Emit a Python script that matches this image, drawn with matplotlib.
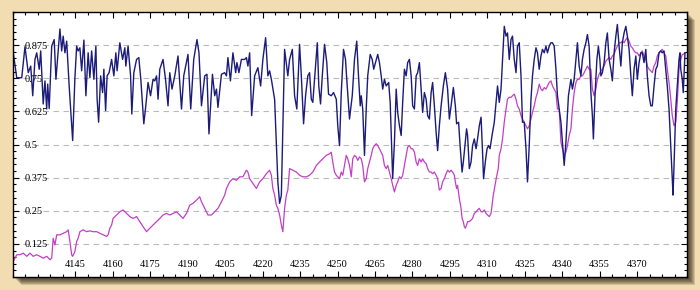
import matplotlib
matplotlib.use("Agg")
import matplotlib.pyplot as plt
from matplotlib.patches import Rectangle
from matplotlib.ticker import FixedLocator, MultipleLocator

# wavelength / normalised flux
blue_wl = [4120.1, 4121.5, 4123.5, 4124.8, 4126.1, 4127.1, 4127.9, 4128.8, 4129.5, 4130.5,
           4131.1, 4132.1, 4132.8, 4133.5, 4133.9, 4134.5, 4135.5, 4136.5, 4137.2, 4138.8,
           4139.5, 4140.1, 4140.8, 4141.5, 4142.5, 4143.9, 4144.8, 4145.5, 4146.1, 4146.8,
           4147.5, 4148.4, 4149.2, 4150.1, 4150.8, 4151.5, 4152.4, 4153.2, 4153.7, 4154.3,
           4155.1, 4155.9, 4156.4, 4157.1, 4157.7, 4158.5, 4159.5, 4160.4, 4161.2, 4161.7,
           4162.8, 4163.9, 4164.8, 4165.2, 4166.1, 4167.1, 4167.6, 4168.4, 4169.5, 4170.4,
           4171.2, 4172.4, 4173.2, 4174.1, 4175.1, 4176.1, 4176.8, 4177.5, 4178.1, 4178.8,
           4180.1, 4181.1, 4182.1, 4182.8, 4183.7, 4184.8, 4186.1, 4187.5, 4188.4, 4190.1,
           4191.2, 4192.4, 4193.7, 4194.5, 4195.5, 4196.8, 4197.7, 4198.5, 4199.9, 4200.8,
           4201.5, 4202.1, 4203.5, 4204.8, 4205.5, 4206.1, 4207.1, 4208.1, 4209.2, 4209.7,
           4210.5, 4211.5, 4212.8, 4213.5, 4214.1, 4214.8, 4215.6, 4216.8, 4218.1, 4219.2,
           4220.1, 4221.2, 4222.1, 4222.8, 4223.5, 4224.8, 4226.1, 4226.8, 4227.5, 4228.8,
           4230.1, 4230.8, 4231.9, 4232.8, 4233.7, 4234.8, 4235.5, 4236.4, 4237.2, 4238.1,
           4238.8, 4239.5, 4240.1, 4241.2, 4241.9, 4242.5, 4243.2, 4243.9, 4244.8, 4245.7,
           4246.4, 4247.5, 4248.4, 4249.5, 4250.1, 4250.8, 4251.5, 4252.4, 4253.2, 4253.7,
           4254.8, 4255.9, 4256.8, 4257.7, 4258.4, 4259.1, 4259.5, 4260.1, 4260.8, 4261.5,
           4262.1, 4263.1, 4263.9, 4264.5, 4265.2, 4266.1, 4266.8, 4267.5, 4268.1, 4268.8,
           4269.5, 4270.5, 4271.1, 4271.7, 4272.1, 4272.8, 4273.5, 4274.1, 4274.8, 4275.5,
           4276.1, 4276.8, 4277.5, 4278.1, 4278.8, 4279.5, 4280.1, 4280.8, 4281.5, 4282.1,
           4282.8, 4283.5, 4284.1, 4284.8, 4285.5, 4286.1, 4286.8, 4287.5, 4288.1, 4288.8,
           4289.5, 4290.1, 4290.8, 4291.5, 4292.4, 4293.2, 4294.1, 4294.8, 4295.5, 4296.4,
           4297.2, 4297.7, 4298.5, 4299.1, 4299.9, 4300.4, 4301.2, 4301.7, 4302.1, 4302.8,
           4303.5, 4304.1, 4304.8, 4305.5, 4306.1, 4306.8, 4307.5, 4308.1, 4308.5, 4309.2,
           4309.9, 4310.5, 4311.1, 4311.9, 4312.8, 4313.5, 4314.1, 4314.8, 4315.5, 4316.1,
           4316.8, 4317.5, 4318.1, 4318.8, 4319.5, 4320.1, 4320.8, 4321.5, 4322.1, 4322.8,
           4323.5, 4324.1, 4324.8, 4325.5, 4326.1, 4326.8, 4327.5, 4328.1, 4328.8, 4329.5,
           4330.1, 4330.8, 4331.5, 4332.1, 4332.8, 4333.5, 4334.1, 4334.8, 4335.5, 4336.1,
           4336.8, 4337.5, 4338.1, 4338.8, 4339.5, 4340.1, 4340.8, 4341.5, 4342.5, 4343.5,
           4344.1, 4344.8, 4345.5, 4346.1, 4346.8, 4347.5, 4348.1, 4348.8, 4349.5, 4350.1,
           4350.8, 4351.5, 4352.1, 4352.5, 4353.2, 4353.9, 4354.5, 4355.1, 4355.5, 4356.1,
           4356.8, 4357.5, 4358.1, 4358.8, 4359.5, 4360.1, 4360.8, 4361.5, 4362.1, 4362.8,
           4363.5, 4364.1, 4364.8, 4365.5, 4366.1, 4366.8, 4367.5, 4368.1, 4368.8, 4369.5,
           4370.1, 4370.8, 4371.5, 4372.1, 4372.8, 4373.5, 4374.1, 4374.8, 4375.5, 4376.1,
           4376.8, 4377.5, 4378.1, 4378.8, 4379.5, 4380.1, 4380.8, 4381.5, 4382.1, 4382.8,
           4383.5, 4384.1, 4384.4, 4384.8, 4385.5, 4386.1, 4386.8, 4387.2, 4387.5, 4388.1,
           4388.5, 4388.9, 4389.2]
blue_flux = [0.846, 0.752, 0.752, 0.869, 0.771, 0.796, 0.684, 0.821, 0.846, 0.784,
             0.853, 0.653, 0.740, 0.634, 0.728, 0.636, 0.871, 0.896, 0.746, 0.936,
             0.853, 0.909, 0.846, 0.890, 0.721, 0.515, 0.752, 0.871, 0.853, 0.865,
             0.778, 0.894, 0.684, 0.846, 0.752, 0.853, 0.746, 0.871, 0.671, 0.584,
             0.759, 0.696, 0.784, 0.628, 0.759, 0.771, 0.821, 0.759, 0.846, 0.778,
             0.884, 0.821, 0.865, 0.796, 0.871, 0.759, 0.615, 0.771, 0.821, 0.828,
             0.746, 0.578, 0.646, 0.734, 0.684, 0.746, 0.740, 0.759, 0.671, 0.784,
             0.821, 0.746, 0.646, 0.771, 0.709, 0.759, 0.834, 0.634, 0.759, 0.840,
             0.634, 0.821, 0.896, 0.846, 0.646, 0.759, 0.765, 0.540, 0.765, 0.684,
             0.709, 0.640, 0.765, 0.771, 0.759, 0.828, 0.740, 0.846, 0.771, 0.809,
             0.771, 0.821, 0.821, 0.828, 0.796, 0.846, 0.609, 0.759, 0.790, 0.721,
             0.821, 0.903, 0.759, 0.778, 0.746, 0.671, 0.359, 0.278, 0.309, 0.859,
             0.759, 0.821, 0.859, 0.684, 0.634, 0.878, 0.759, 0.578, 0.684, 0.759,
             0.771, 0.671, 0.659, 0.796, 0.884, 0.721, 0.653, 0.759, 0.878, 0.809,
             0.690, 0.684, 0.696, 0.671, 0.571, 0.496, 0.696, 0.859, 0.821, 0.746,
             0.596, 0.684, 0.821, 0.890, 0.759, 0.646, 0.684, 0.634, 0.459, 0.634,
             0.759, 0.840, 0.821, 0.784, 0.809, 0.840, 0.809, 0.759, 0.709, 0.746,
             0.721, 0.734, 0.659, 0.484, 0.371, 0.509, 0.709, 0.621, 0.571, 0.534,
             0.659, 0.784, 0.759, 0.809, 0.821, 0.759, 0.646, 0.634, 0.759, 0.771,
             0.809, 0.709, 0.621, 0.696, 0.671, 0.609, 0.596, 0.696, 0.734, 0.646,
             0.546, 0.477, 0.571, 0.646, 0.721, 0.771, 0.709, 0.596, 0.646, 0.715,
             0.646, 0.578, 0.584, 0.496, 0.396, 0.434, 0.509, 0.559, 0.534, 0.409,
             0.434, 0.496, 0.521, 0.484, 0.521, 0.571, 0.603, 0.471, 0.371, 0.434,
             0.484, 0.496, 0.484, 0.534, 0.584, 0.659, 0.721, 0.659, 0.709, 0.821,
             0.946, 0.909, 0.921, 0.821, 0.896, 0.909, 0.821, 0.771, 0.871, 0.884,
             0.759, 0.584, 0.584, 0.484, 0.359, 0.496, 0.671, 0.759, 0.821, 0.865,
             0.846, 0.784, 0.834, 0.859, 0.846, 0.871, 0.846, 0.871, 0.884, 0.884,
             0.871, 0.784, 0.684, 0.634, 0.584, 0.509, 0.421, 0.509, 0.684, 0.746,
             0.709, 0.746, 0.821, 0.884, 0.796, 0.759, 0.821, 0.859, 0.884, 0.915,
             0.871, 0.696, 0.609, 0.521, 0.696, 0.821, 0.871, 0.821, 0.759, 0.771,
             0.809, 0.884, 0.921, 0.821, 0.784, 0.740, 0.846, 0.909, 0.953, 0.871,
             0.796, 0.884, 0.921, 0.946, 0.909, 0.859, 0.759, 0.684, 0.784, 0.834,
             0.746, 0.809, 0.846, 0.846, 0.809, 0.859, 0.759, 0.684, 0.646, 0.646,
             0.721, 0.784, 0.796, 0.846, 0.853, 0.846, 0.853, 0.784, 0.721, 0.634,
             0.496, 0.371, 0.309, 0.421, 0.634, 0.721, 0.821, 0.846, 0.784, 0.746,
             0.696, 0.784, 0.846]

pink_wl = [4120.1, 4121.5, 4122.8, 4124.1, 4125.5, 4126.8, 4128.1, 4129.5, 4130.8, 4132.1,
           4133.5, 4134.8, 4135.5, 4136.1, 4136.8, 4137.5, 4138.8, 4140.1, 4141.5, 4142.1,
           4142.8, 4143.5, 4143.9, 4144.8, 4145.5, 4146.1, 4146.8, 4148.1, 4149.5, 4150.8,
           4152.1, 4153.5, 4154.8, 4156.1, 4157.5, 4158.1, 4158.8, 4159.5, 4160.1, 4161.5,
           4162.8, 4164.1, 4165.5, 4166.8, 4168.1, 4169.5, 4170.8, 4172.1, 4173.5, 4174.8,
           4176.1, 4177.5, 4178.8, 4180.1, 4181.5, 4182.8, 4184.1, 4185.5, 4186.8, 4188.1,
           4189.5, 4190.8, 4192.1, 4193.5, 4194.8, 4195.5, 4196.8, 4198.1, 4199.5, 4200.8,
           4202.1, 4203.5, 4204.8, 4205.5, 4206.8, 4208.1, 4209.5, 4210.8, 4212.1, 4213.5,
           4214.1, 4214.8, 4216.1, 4217.5, 4218.8, 4220.1, 4221.5, 4222.8, 4223.5, 4224.1,
           4224.8, 4225.5, 4226.1, 4226.8, 4227.5, 4228.1, 4228.8, 4229.5, 4230.1, 4230.8,
           4232.1, 4233.5, 4234.8, 4236.1, 4237.5, 4238.8, 4240.1, 4241.5, 4242.8, 4244.1,
           4245.5, 4246.8, 4247.5, 4248.1, 4248.8, 4249.5, 4250.8, 4251.5, 4252.1, 4252.8,
           4253.5, 4254.1, 4254.8, 4255.5, 4256.1, 4256.8, 4257.5, 4258.1, 4258.8, 4259.5,
           4260.1, 4260.8, 4261.5, 4262.1, 4262.8, 4263.5, 4264.1, 4264.8, 4265.5, 4266.1,
           4266.8, 4267.5, 4268.1, 4268.8, 4269.5, 4270.1, 4270.8, 4271.5, 4272.1, 4272.8,
           4273.5, 4274.1, 4274.8, 4275.5, 4276.1, 4276.8, 4277.5, 4278.1, 4278.8, 4279.5,
           4280.1, 4280.8, 4281.5, 4282.1, 4282.8, 4283.5, 4284.1, 4284.8, 4285.5, 4286.1,
           4286.8, 4287.5, 4288.1, 4288.8, 4289.5, 4290.1, 4290.8, 4291.5, 4292.1, 4292.8,
           4293.5, 4294.1, 4294.8, 4295.5, 4296.1, 4296.8, 4297.2, 4297.7, 4298.1, 4298.8,
           4299.5, 4299.9, 4300.4, 4300.8, 4301.2, 4301.7, 4302.1, 4302.8, 4303.5, 4304.1,
           4304.8, 4305.5, 4306.1, 4306.8, 4307.5, 4308.1, 4308.8, 4309.5, 4310.1, 4310.8,
           4311.5, 4311.9, 4312.4, 4313.1, 4313.7, 4314.4, 4314.8, 4315.5, 4316.1, 4316.8,
           4317.5, 4318.1, 4318.8, 4319.5, 4320.1, 4320.8, 4321.5, 4322.1, 4322.8, 4323.5,
           4324.1, 4324.8, 4325.5, 4326.1, 4326.8, 4327.5, 4328.1, 4328.8, 4329.5, 4330.1,
           4330.8, 4331.5, 4332.1, 4332.8, 4333.5, 4334.1, 4334.8, 4335.5, 4336.1, 4336.8,
           4337.5, 4338.1, 4338.8, 4339.5, 4340.1, 4340.8, 4341.5, 4342.1, 4342.8, 4343.5,
           4344.1, 4344.8, 4345.5, 4346.1, 4346.8, 4347.5, 4348.1, 4348.8, 4349.5, 4350.1,
           4350.8, 4351.5, 4352.1, 4352.8, 4353.5, 4354.1, 4354.8, 4355.5, 4356.1, 4356.8,
           4357.5, 4358.1, 4358.8, 4359.5, 4360.1, 4360.8, 4361.5, 4362.1, 4362.8, 4363.5,
           4364.1, 4364.8, 4365.5, 4366.1, 4366.8, 4367.5, 4368.1, 4368.8, 4369.5, 4370.1,
           4370.8, 4371.5, 4372.1, 4372.8, 4373.5, 4374.1, 4374.8, 4375.5, 4376.1, 4376.8,
           4377.5, 4378.1, 4378.8, 4379.5, 4380.1, 4380.8, 4381.5, 4382.1, 4382.8, 4383.5,
           4384.1, 4384.8, 4385.5, 4386.1, 4386.8, 4387.5, 4388.1, 4388.5, 4389.2]
pink_flux = [0.059, 0.084, 0.084, 0.090, 0.078, 0.090, 0.078, 0.084, 0.078, 0.071,
             0.078, 0.065, 0.071, 0.146, 0.121, 0.159, 0.159, 0.165, 0.171, 0.178,
             0.134, 0.084, 0.078, 0.096, 0.134, 0.146, 0.171, 0.178, 0.171, 0.174,
             0.171, 0.171, 0.165, 0.159, 0.153, 0.159, 0.184, 0.196, 0.221, 0.234,
             0.246, 0.253, 0.240, 0.228, 0.221, 0.228, 0.209, 0.190, 0.171, 0.184,
             0.196, 0.209, 0.221, 0.234, 0.240, 0.234, 0.240, 0.246, 0.234, 0.221,
             0.240, 0.271, 0.278, 0.290, 0.303, 0.284, 0.259, 0.234, 0.234, 0.246,
             0.259, 0.284, 0.309, 0.334, 0.359, 0.371, 0.365, 0.378, 0.378, 0.403,
             0.396, 0.371, 0.353, 0.334, 0.359, 0.371, 0.390, 0.403, 0.384, 0.334,
             0.309, 0.271, 0.259, 0.234, 0.196, 0.171, 0.259, 0.309, 0.328, 0.409,
             0.403, 0.396, 0.384, 0.378, 0.378, 0.384, 0.396, 0.421, 0.434, 0.446,
             0.459, 0.465, 0.471, 0.434, 0.396, 0.384, 0.371, 0.396, 0.384, 0.421,
             0.459, 0.446, 0.421, 0.378, 0.446, 0.459, 0.453, 0.440, 0.453, 0.446,
             0.421, 0.359, 0.371, 0.409, 0.434, 0.459, 0.484, 0.496, 0.503, 0.496,
             0.484, 0.471, 0.459, 0.421, 0.409, 0.421, 0.396, 0.371, 0.346, 0.321,
             0.346, 0.359, 0.378, 0.371, 0.384, 0.421, 0.459, 0.490, 0.496, 0.484,
             0.484, 0.471, 0.434, 0.421, 0.446, 0.434, 0.446, 0.434, 0.428, 0.409,
             0.396, 0.396, 0.390, 0.396, 0.384, 0.371, 0.328, 0.334, 0.359, 0.371,
             0.390, 0.403, 0.396, 0.403, 0.396, 0.384, 0.359, 0.334, 0.346, 0.296,
             0.259, 0.221, 0.209, 0.190, 0.184, 0.196, 0.209, 0.209, 0.215, 0.221,
             0.240, 0.246, 0.253, 0.259, 0.246, 0.246, 0.253, 0.240, 0.234, 0.228,
             0.240, 0.271, 0.309, 0.346, 0.378, 0.409, 0.459, 0.484, 0.521, 0.584,
             0.634, 0.671, 0.678, 0.678, 0.684, 0.690, 0.671, 0.646, 0.634, 0.609,
             0.596, 0.584, 0.571, 0.559, 0.571, 0.596, 0.621, 0.646, 0.678, 0.696,
             0.728, 0.709, 0.703, 0.715, 0.709, 0.721, 0.734, 0.740, 0.721, 0.709,
             0.696, 0.634, 0.634, 0.509, 0.484, 0.459, 0.471, 0.496, 0.534, 0.559,
             0.634, 0.696, 0.734, 0.746, 0.746, 0.759, 0.759, 0.771, 0.784, 0.796,
             0.784, 0.784, 0.709, 0.684, 0.709, 0.746, 0.765, 0.778, 0.784, 0.796,
             0.815, 0.821, 0.828, 0.821, 0.834, 0.840, 0.859, 0.871, 0.884, 0.884,
             0.890, 0.884, 0.896, 0.903, 0.890, 0.871, 0.865, 0.853, 0.846, 0.846,
             0.834, 0.846, 0.853, 0.834, 0.821, 0.796, 0.784, 0.778, 0.771, 0.796,
             0.809, 0.834, 0.846, 0.853, 0.859, 0.846, 0.834, 0.784, 0.734, 0.671,
             0.609, 0.571, 0.584, 0.659, 0.784, 0.821, 0.840, 0.840, 0.846]

x_ticks = list(range(4145, 4371, 15))
y_ticks = [0.125, 0.25, 0.375, 0.5, 0.625, 0.75, 0.875]
y_labels = ["0.125", "0.25", "0.375", "0.5", "0.625", "0.75", "0.875"]

W, H = 700, 290
fig = plt.figure(figsize=(W / 100, H / 100), dpi=100)
fig.patch.set_facecolor("#f2ddb3")

# plot box in pixels (left, top, right, bottom)
L, T, R, B = 13, 12, 687, 277

# soft drop shadow to the lower right of the box
for off in [2, 3, 4, 5, 6, 7, 8]:
    fig.patches.append(Rectangle(((L + off) / W, (H - B - off) / H), (R - L) / W, (B - T) / H,
                                 transform=fig.transFigure, facecolor="#2b1d0c",
                                 edgecolor="none", alpha=0.17, zorder=0))

ax = fig.add_axes([L / W, (H - B) / H, (R - L) / W, (B - T) / H])
ax.set_zorder(5)
ax.set_facecolor("white")

ax.plot(pink_wl, pink_flux, color="#c23fc6", linewidth=0.9)
ax.plot(blue_wl, blue_flux, color="#1b1b7a", linewidth=1.0)

ax.set_xlim(4120, 4390)
ax.set_ylim(0, 1)

ax.xaxis.set_major_locator(FixedLocator(x_ticks))
ax.xaxis.set_minor_locator(MultipleLocator(5))
ax.yaxis.set_major_locator(FixedLocator(y_ticks))
ax.yaxis.set_minor_locator(MultipleLocator(0.025))
ax.set_yticklabels(y_labels)

ax.yaxis.grid(True, which="major", color="#b9b9b9", linestyle=(0, (5, 4)), linewidth=0.8)
ax.set_axisbelow(True)

ax.tick_params(which="both", direction="in", top=True, right=True, width=0.8)
ax.tick_params(which="major", length=4)
ax.tick_params(which="minor", length=2.5)
ax.tick_params(axis="x", pad=-12.5, labelsize=7.5)
ax.tick_params(axis="y", pad=-8.6, labelsize=7.5)
for lab in ax.get_yticklabels():
    lab.set_horizontalalignment("left")
    lab.set_family("Liberation Serif")
for lab in ax.get_xticklabels():
    lab.set_family("Liberation Serif")

for sp in ax.spines.values():
    sp.set_linewidth(1.0)
    sp.set_color("black")

fig.savefig("out.png", dpi=100, facecolor=fig.get_facecolor())
